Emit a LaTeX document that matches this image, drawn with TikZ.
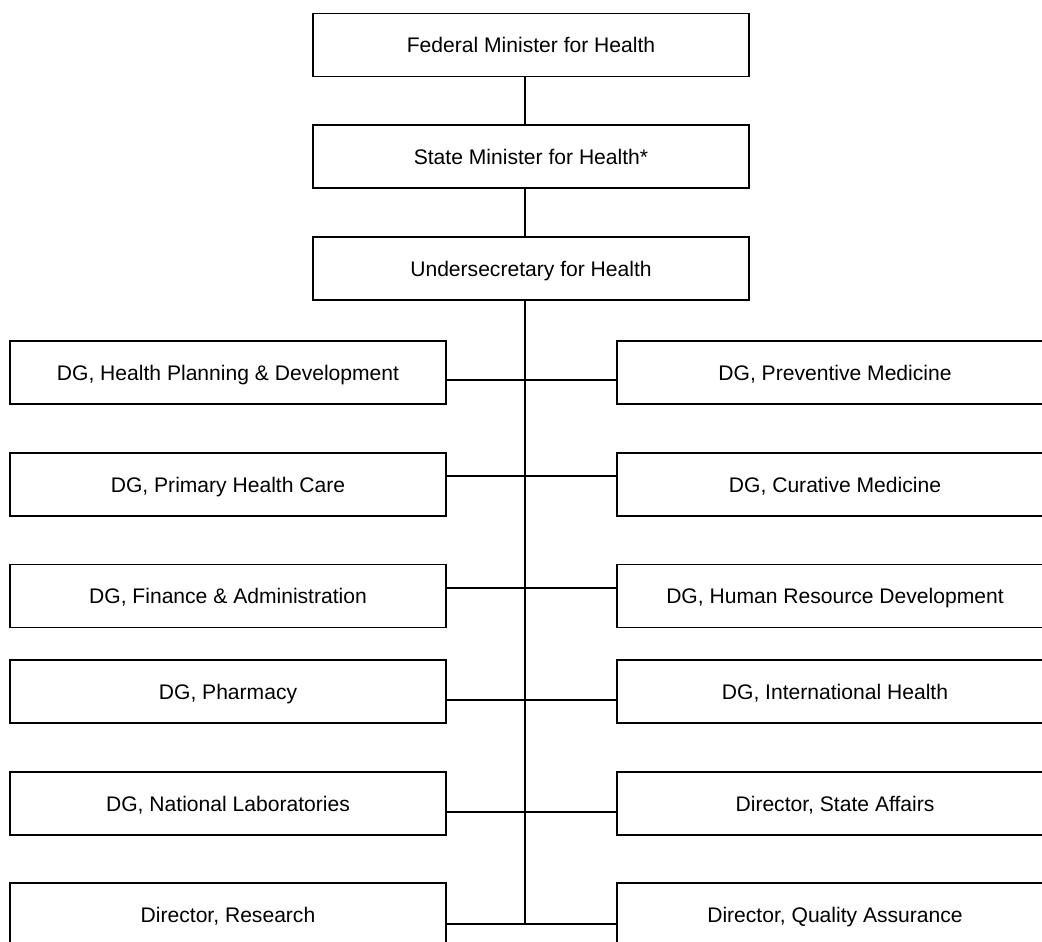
\documentclass[tikz,border=0pt]{standalone}
\usepackage{fontspec}
\setmainfont{Liberation Sans}
\usetikzlibrary{positioning}

\begin{document}
\begin{tikzpicture}[x=0.02cm,y=-0.02cm,
    post/.style={draw,line width=0.8pt,minimum width=8.72cm,minimum height=1.26cm,
                 inner sep=0pt,text height=8.6pt,text depth=0pt,
                 font=\fontsize{12}{14}\selectfont},
    link/.style={line width=0.8pt}]
  \useasboundingbox (0,0) rectangle (1042,942);
  \clip (0,0) rectangle (1042,942);
  % 上方三级
  \node[post] (fed)   at (531,45)    {Federal Minister for Health};
  \node[post] (state) at (531,156.5) {State Minister for Health*};
  \node[post] (under) at (531,268.5) {Undersecretary for Health};
  % 左列
  \node[post] (hpd)  at (228,372.5) {DG, Health Planning \& Development};
  \node[post] (phc)  at (228,484.5) {DG, Primary Health Care};
  \node[post] (fin)  at (228,596)   {DG, Finance \& Administration};
  \node[post] (pha)  at (228,691.5) {DG, Pharmacy};
  \node[post] (lab)  at (228,803.5) {DG, National Laboratories};
  \node[post] (res)  at (228,914.5) {Director, Research};
  % 右列
  \node[post] (prev) at (835,372.5) {DG, Preventive Medicine};
  \node[post] (cur)  at (835,484.5) {DG, Curative Medicine};
  \node[post] (hrd)  at (835,596)   {DG, Human Resource Development};
  \node[post] (intl) at (835,691.5) {DG, International Health};
  \node[post] (sta)  at (835,803.5) {Director, State Affairs};
  \node[post] (qa)   at (835,914.5) {Director, Quality Assurance};
  % 主干与分支点
  \coordinate (sp) at (525,0);
  \coordinate (j1) at (525,380);
  \coordinate (j2) at (525,476);
  \coordinate (j3) at (525,588);
  \coordinate (j4) at (525,700);
  \coordinate (j5) at (525,812);
  \coordinate (j6) at (525,924);
  \draw[link] (fed.south -| sp) -- (state.north -| sp);
  \draw[link] (state.south -| sp) -- (under.north -| sp);
  \draw[link] (under.south -| sp) -- (j6);
  % 横向连线
  \draw[link] (hpd.east |- j1) -- (prev.west |- j1);
  \draw[link] (phc.east |- j2) -- (cur.west |- j2);
  \draw[link] (fin.east |- j3) -- (hrd.west |- j3);
  \draw[link] (pha.east |- j4) -- (intl.west |- j4);
  \draw[link] (lab.east |- j5) -- (sta.west |- j5);
  \draw[link] (res.east |- j6) -- (qa.west |- j6);
\end{tikzpicture}
\end{document}
